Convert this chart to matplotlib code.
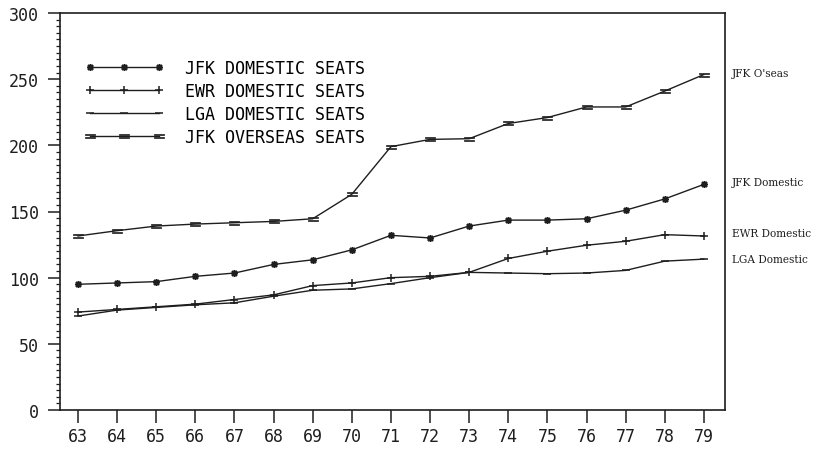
import numpy as np
import matplotlib
matplotlib.use("Agg")
import matplotlib.pyplot as plt
from matplotlib.ticker import MultipleLocator

years = [63, 64, 65, 66, 67, 68, 69, 70, 71, 72, 73, 74, 75, 76, 77, 78, 79]

jfk_domestic = [95, 96, 97, 101, 103.5, 110, 113.5, 121, 132, 130, 139, 143.5, 143.5, 144.5, 151, 159.5, 170.5]
ewr_domestic = [74, 76, 78, 80, 83.5, 87, 94, 96, 100, 101, 104, 114.5, 120, 124.5, 127.5, 132.5, 131.5]
lga_domestic = [71, 75.5, 77.5, 79.5, 81, 86, 90.5, 91.5, 95.5, 100, 104, 103.5, 103, 103.5, 105.5, 112.5, 114]
jfk_overseas = [131.5, 135.5, 139, 140.5, 141.5, 142.5, 144.5, 163, 199, 204.5, 205, 216.5, 221, 229, 229, 241, 253.5]

legend_labels = ["JFK DOMESTIC SEATS", "EWR DOMESTIC SEATS",
                 "LGA DOMESTIC SEATS", "JFK OVERSEAS SEATS"]
end_labels = ["JFK Domestic", "EWR Domestic", "LGA Domestic", "JFK O'seas"]

plot_font = "DejaVu Sans Mono"
ink = "#1e1e1e"

fig = plt.figure(figsize=(8.2, 4.52), dpi=100)
ax = fig.add_axes([60/820, 41/452, 665/820, 397/452])

series = [jfk_domestic, ewr_domestic, lga_domestic, jfk_overseas]
markers = [(8, 2, 0), "+", "_", "$=$"]
msizes = [5, 6, 6, 7]
mews = [1.1, 1.1, 1.1, 0.5]

handles = []
for vals, m, ms, mw, lab in zip(series, markers, msizes, mews, legend_labels):
    h, = ax.plot(years, vals, color=ink, lw=1.0, marker=m, ms=ms,
                 mew=mw, mec=ink, mfc=ink, label=lab)
    handles.append(h)

ax.set_xlim(62.54, 79.54)
ax.set_ylim(0, 300)
ax.set_xticks(years)
ax.set_xticklabels([str(y) for y in years])
ax.yaxis.set_major_locator(MultipleLocator(50))
ax.yaxis.set_minor_locator(MultipleLocator(5))

ax.tick_params(axis="x", which="major", direction="out", length=9, width=1.1,
               pad=3, labelsize=12, colors=ink)
ax.tick_params(axis="y", which="major", direction="out", length=9, width=1.1,
               pad=6, labelsize=12, colors=ink)
ax.tick_params(axis="y", which="minor", direction="out", length=3, width=0.9,
               colors=ink)
for lbl in ax.get_xticklabels() + ax.get_yticklabels():
    lbl.set_family(plot_font)

for sp in ax.spines.values():
    sp.set_color(ink)
    sp.set_linewidth(1.2)

leg = ax.legend(handles=handles, loc="upper left",
                bbox_to_anchor=(0.038, 0.885), frameon=False, numpoints=3,
                handlelength=4.7, handletextpad=1.3, labelspacing=0.3,
                borderpad=0, borderaxespad=0,
                prop={"family": plot_font, "size": 12})

# names of each series beside the last point, outside the frame
offsets = [2, 2, 0, 1]
for vals, name, dy in zip(series, end_labels, offsets):
    ax.annotate(name, xy=(1.0, vals[-1] + dy), xycoords=("axes fraction", "data"),
                xytext=(5, 0), textcoords="offset points", va="center",
                ha="left", family="DejaVu Serif", fontsize=7.6, color=ink,
                annotation_clip=False)

fig.savefig("out.png", dpi=100)
